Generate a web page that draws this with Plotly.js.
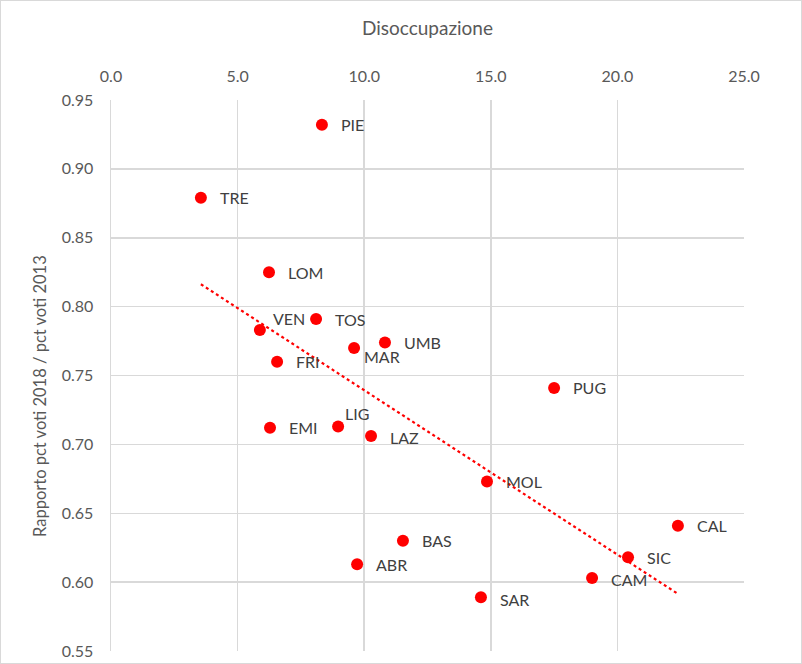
<!DOCTYPE html>
<html>
<head>
<meta charset="utf-8">
<script src="https://cdn.plot.ly/plotly-3.0.1.min.js"></script>
<style>
html,body{margin:0;padding:0;background:#fff;}
#frame{width:802px;height:664px;box-sizing:border-box;border:1px solid #d9d9d9;}
#chart{width:800px;height:662px;}
</style>
</head>
<body>
<div id="frame"><div id="chart"></div></div>
<script>
// Data
const regions = ["PIE","TRE","LOM","VEN","TOS","UMB","MAR","FRI","PUG","EMI","LIG","LAZ","MOL","CAL","BAS","SIC","ABR","CAM","SAR"];
const disoccupazione = [8.33,3.55,6.24,5.88,8.10,10.82,9.60,6.56,17.50,6.28,8.97,10.27,14.85,22.39,11.53,20.42,9.72,19.00,14.61];
const rapporto = [0.932,0.879,0.825,0.783,0.791,0.774,0.770,0.760,0.741,0.712,0.713,0.706,0.673,0.641,0.630,0.618,0.613,0.603,0.589];
const xTicks = [0,5,10,15,20,25];
const yTicks = [0.55,0.60,0.65,0.70,0.75,0.80,0.85,0.90,0.95];

// label offsets (style, pixels)
const labelDX = {VEN:11, MAR:8, LIG:5};
const labelDY = {VEN:12, MAR:-9, LIG:13, LAZ:-1, CAM:-2, SAR:-2};

// linear regression trendline
const n = disoccupazione.length;
const mx = disoccupazione.reduce((a,b)=>a+b,0)/n;
const my = rapporto.reduce((a,b)=>a+b,0)/n;
let sxy=0, sxx=0;
for(let i=0;i<n;i++){sxy+=(disoccupazione[i]-mx)*(rapporto[i]-my);sxx+=(disoccupazione[i]-mx)**2;}
const slope=sxy/sxx, icpt=my-slope*mx;
const xmin=Math.min(...disoccupazione), xmax=Math.max(...disoccupazione);

const font = "Lato, 'Open Sans', sans-serif";
const traces = [
  {x:[xmin,xmax], y:[icpt+slope*xmin, icpt+slope*xmax], mode:'lines',
   line:{color:'#ff0000', width:2.2, dash:'dot'}, hoverinfo:'skip', showlegend:false},
  {x:disoccupazione, y:rapporto, mode:'markers', marker:{color:'#ff0000', size:12},
   text:regions, showlegend:false}
];

const annotations = regions.map((r,i)=>({
  x:disoccupazione[i], y:rapporto[i], text:r, showarrow:false,
  xanchor:'left', yanchor:'middle',
  xshift:(labelDX[r]!==undefined?labelDX[r]:17), yshift:(labelDY[r]||0),
  font:{family:font, size:16, color:'#404040'}
}));
annotations.push({
  xref:'paper', yref:'paper', x:-0.112, y:0.463, text:'Rapporto pct voti 2018 / pct voti 2013',
  textangle:-90, showarrow:false, xanchor:'center', yanchor:'middle',
  font:{family:font, size:16.5, color:'#595959'}
});

const layout = {
  width:800, height:662,
  margin:{l:110, r:57, t:99, b:12},
  paper_bgcolor:'#ffffff', plot_bgcolor:'#ffffff',
  font:{family:font, color:'#595959'},
  xaxis:{side:'top', range:[0,25], tickvals:xTicks, ticktext:xTicks.map(v=>v.toFixed(1)),
    showgrid:true, gridcolor:'#d9d9d9', gridwidth:1.5, zeroline:false, showline:false,
    ticks:'', tickfont:{size:16, color:'#595959', family:font}, ticklabelstandoff:14,
    title:{text:'Disoccupazione', font:{size:19, color:'#595959', family:font}, standoff:25},
    fixedrange:true},
  yaxis:{range:[0.55,0.95], tickvals:yTicks, ticktext:yTicks.map(v=>v.toFixed(2)),
    showgrid:true, gridcolor:'#d9d9d9', gridwidth:1.5, zeroline:false, showline:true, linecolor:'#d9d9d9', linewidth:1.5,
    ticks:'', tickfont:{size:16, color:'#595959', family:font}, ticklabelstandoff:13,
    fixedrange:true},
  annotations:annotations,
  showlegend:false
};

Plotly.newPlot('chart', traces, layout, {displayModeBar:false, staticPlot:true});
</script>
</body>
</html>
